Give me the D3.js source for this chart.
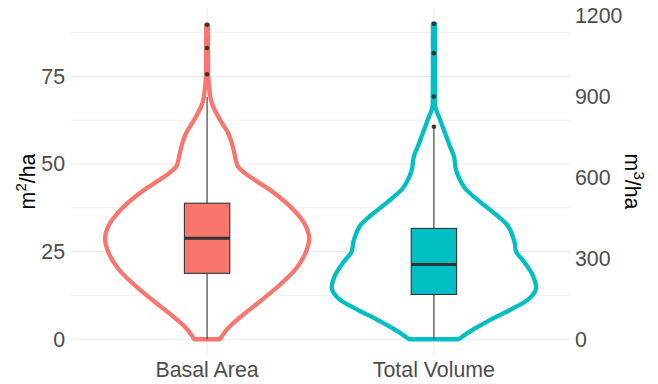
<!DOCTYPE html>
<html>
<head>
<meta charset="utf-8">
<script src="https://cdn.jsdelivr.net/npm/d3@7/dist/d3.min.js"></script>
<style>
  html, body { margin: 0; padding: 0; background: #ffffff; }
  svg { display: block; }
  text { font-family: "Liberation Sans", Arial, sans-serif; }
</style>
</head>
<body>
<svg id="chart" width="658" height="384"></svg>
<script>
// ---- data -------------------------------------------------------------
const categories = ["Basal Area", "Total Volume"];
const colors = ["#F8766D", "#00BFC4"];

// secondary axis: m³/ha = 13 × m²/ha
const volumeFactor = 13;

// kernel density profile of basal area (m²/ha), relative density
const baLevels  = [0, 3.1, 6.9, 10.7, 15.4, 20.1, 24.9, 28.8, 32.6, 37.3, 42.1, 46.4, 49.2, 51.1, 54.9, 58.9, 62.6, 67.4, 72, 75, 80, 89.7];
const baDensity = [13, 21, 36, 53, 73, 89.7, 99.7, 103, 99, 86, 66, 43, 31.3, 29, 26, 21, 13, 4.7, 2, 1.2, 1, 1];

// kernel density profile of total volume (m³/ha), relative density
const tvLevels  = [0, 40, 77, 114, 151, 188, 238, 287, 324, 361, 420, 461, 510, 560, 591, 628, 677, 714, 764, 813, 862, 900, 1000, 1170];
const tvDensity = [25, 41.3, 59.7, 79.7, 96.3, 103, 99.7, 91, 83, 81.3, 74.7, 63, 46.3, 31.3, 26.3, 22.3, 20.3, 16.3, 11.3, 6.3, 1.5, 1.2, 1, 1];

// box plot statistics, in each variable's own unit
const whiskerLow  = [0, 0];
const q1          = [18.8, 166];
const median      = [28.8, 277.5];
const q3          = [38.8, 411];
const whiskerHigh = [69.1, 783];
const baOutliers = [75.6, 83.1, 89.7];
const tvOutliers = [788, 900, 1061, 1170];

// axis breaks
const leftTicks  = [0, 25, 50, 75];
const minorTicks = [12.5, 37.5, 62.5, 87.5];
const rightTicks = [0, 300, 600, 900, 1200];

// ---- layout -----------------------------------------------------------
const W = 658, H = 384;
const panel = { left: 71, right: 570, top: 8, bottom: 355 };
const svg = d3.select("#chart");

// everything is plotted in m²/ha units; volume is divided by the factor
const toBA = [v => v, v => v / volumeFactor];
const dataMax = d3.max([d3.max(baLevels), d3.max(baOutliers), d3.max(tvLevels) / volumeFactor, d3.max(tvOutliers) / volumeFactor]);

const y = d3.scaleLinear()
  .domain([-0.05 * dataMax, 1.05 * dataMax])
  .range([panel.bottom, panel.top]);
const yRight = d3.scaleLinear()
  .domain(y.domain().map(d => d * volumeFactor))
  .range(y.range());

const x = d3.scalePoint()
  .domain(categories)
  .range([panel.left, panel.right])
  .padding(0.6);
const step = x.step();

// ---- grid -------------------------------------------------------------
const grid = svg.append("g");
grid.selectAll("line.minor").data(minorTicks).join("line")
  .attr("x1", panel.left).attr("x2", panel.right)
  .attr("y1", d => y(d)).attr("y2", d => y(d))
  .attr("stroke", "#ebebeb").attr("stroke-width", 0.8);
grid.selectAll("line.major").data(leftTicks).join("line")
  .attr("x1", panel.left).attr("x2", panel.right)
  .attr("y1", d => y(d)).attr("y2", d => y(d))
  .attr("stroke", "#ebebeb").attr("stroke-width", 1.1);
grid.selectAll("line.vert").data(categories).join("line")
  .attr("x1", d => x(d)).attr("x2", d => x(d))
  .attr("y1", panel.top).attr("y2", panel.bottom)
  .attr("stroke", "#ebebeb").attr("stroke-width", 1.1);

// ---- violins ----------------------------------------------------------
const profiles = [
  d3.zip(baLevels, baDensity),
  d3.zip(tvLevels, tvDensity)
];
const maxWidth = 0.45 * step;

profiles.forEach((prof, i) => {
  const dmax = d3.max(prof, p => p[1]);
  const w = d3.scaleLinear().domain([0, dmax]).range([0, maxWidth]);
  const cx = x(categories[i]);
  const area = d3.area()
    .y(p => y(toBA[i](p[0])))
    .x0(p => cx - w(p[1]))
    .x1(p => cx + w(p[1]))
    .curve(d3.curveCatmullRom.alpha(0.5));
  svg.append("path")
    .attr("d", area(prof) + "Z")
    .attr("fill", "#ffffff")
    .attr("stroke", colors[i])
    .attr("stroke-width", 4.3)
    .attr("stroke-linejoin", "round");
});

// ---- box plots --------------------------------------------------------
const boxHalf = 0.1 * step;
const outliers = [baOutliers, tvOutliers];
categories.forEach((c, i) => {
  const cx = x(c);
  const f = toBA[i];
  const g = svg.append("g");
  g.append("line")
    .attr("x1", cx).attr("x2", cx)
    .attr("y1", y(f(q3[i]))).attr("y2", y(f(whiskerHigh[i])))
    .attr("stroke", "#333333").attr("stroke-width", 1.1);
  g.append("line")
    .attr("x1", cx).attr("x2", cx)
    .attr("y1", y(f(q1[i]))).attr("y2", y(f(whiskerLow[i])))
    .attr("stroke", "#333333").attr("stroke-width", 1.1);
  g.append("rect")
    .attr("x", cx - boxHalf).attr("width", 2 * boxHalf)
    .attr("y", y(f(q3[i]))).attr("height", y(f(q1[i])) - y(f(q3[i])))
    .attr("fill", colors[i])
    .attr("stroke", "#333333").attr("stroke-width", 1.1);
  g.append("line")
    .attr("x1", cx - boxHalf).attr("x2", cx + boxHalf)
    .attr("y1", y(f(median[i]))).attr("y2", y(f(median[i])))
    .attr("stroke", "#333333").attr("stroke-width", 3);
  g.selectAll("circle").data(outliers[i]).join("circle")
    .attr("cx", cx).attr("cy", d => y(f(d)))
    .attr("r", 2.3)
    .attr("fill", "#333333");
});

// ---- axes text ----------------------------------------------------------
const tickSize = 21.33;
svg.append("g").selectAll("text").data(leftTicks).join("text")
  .attr("x", 65).attr("y", d => y(d)).attr("dy", "0.35em")
  .attr("text-anchor", "end")
  .attr("font-size", tickSize).attr("fill", "#4d4d4d")
  .text(d => d);

svg.append("g").selectAll("text").data(rightTicks).join("text")
  .attr("x", 575).attr("y", d => yRight(d)).attr("dy", "0.35em")
  .attr("text-anchor", "start")
  .attr("font-size", tickSize).attr("fill", "#4d4d4d")
  .text(d => d);

svg.append("g").selectAll("text").data(categories).join("text")
  .attr("x", d => x(d)).attr("y", 377)
  .attr("text-anchor", "middle")
  .attr("font-size", tickSize).attr("fill", "#4d4d4d")
  .text(d => d);

// axis titles with superscript units
function unitTitle(tx, ty, rot, power) {
  const t = svg.append("text")
    .attr("transform", `translate(${tx},${ty}) rotate(${rot})`)
    .attr("text-anchor", "middle")
    .attr("font-size", tickSize).attr("fill", "#000000");
  t.append("tspan").text("m");
  t.append("tspan").attr("font-size", 15).attr("dy", -9).text(power);
  t.append("tspan").attr("dy", 9).text("/ha");
}
const midY = (panel.top + panel.bottom) / 2;
unitTitle(35, midY, -90, "2");
unitTitle(625, midY, 90, "3");
</script>
</body>
</html>
